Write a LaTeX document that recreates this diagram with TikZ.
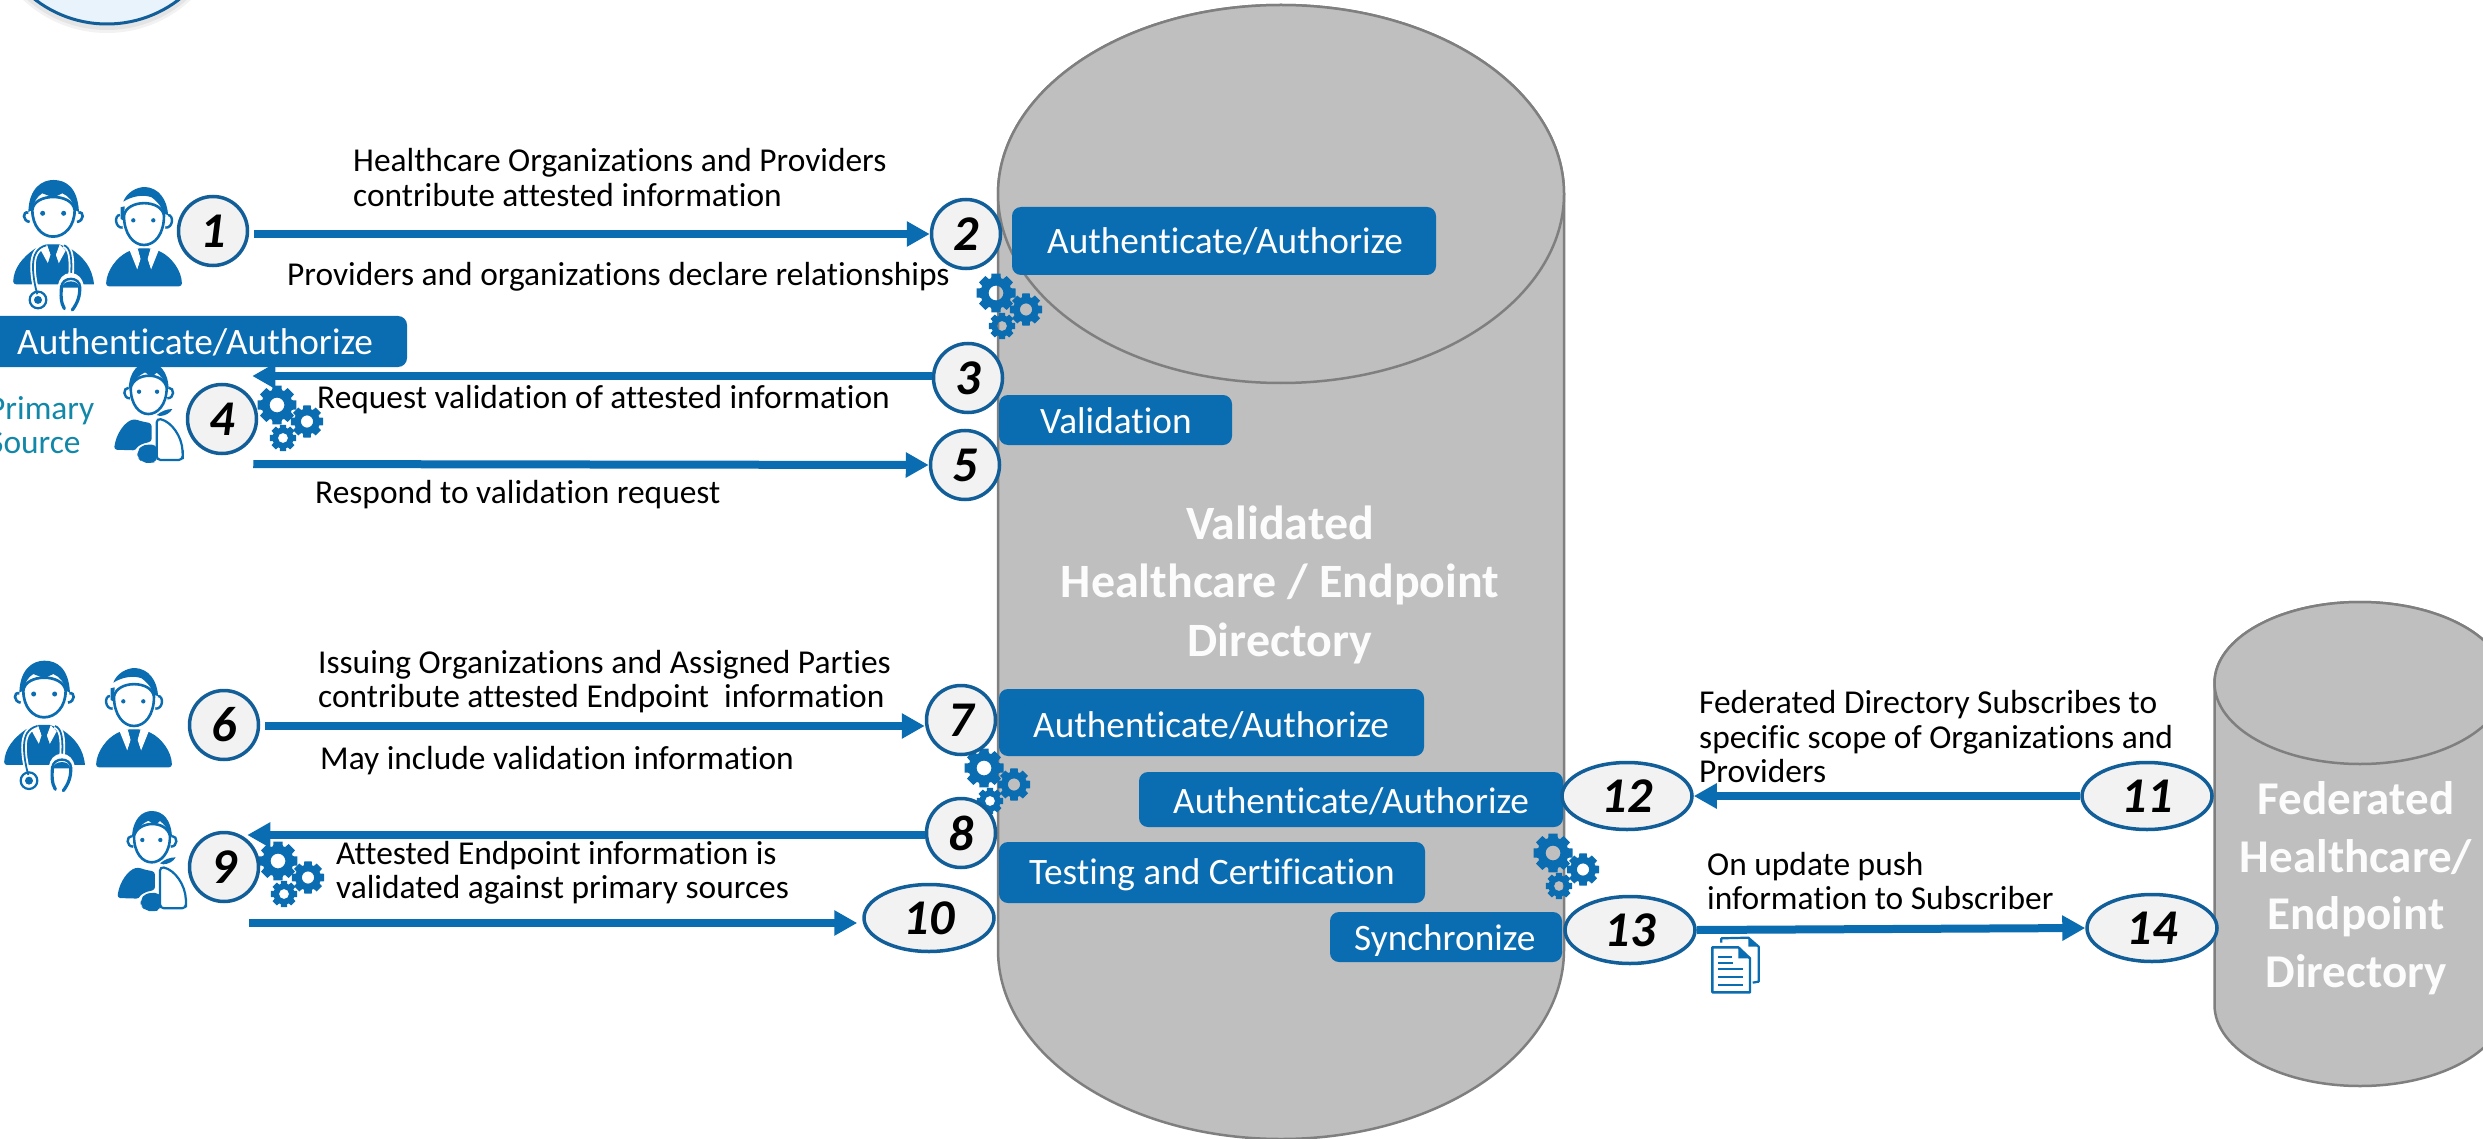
\documentclass[tikz,border=0pt]{standalone}
\usepackage{fontspec}
\setmainfont{Carlito}[Ligatures=NoCommon]
\usetikzlibrary{arrows.meta,shapes.geometric,calc}
\definecolor{bluemain}{HTML}{0A6CB1}
\definecolor{ringblue}{HTML}{115E99}
\definecolor{numfill}{HTML}{F2F2F2}
\definecolor{cylfill}{HTML}{BFBFBF}
\definecolor{cylline}{HTML}{7F7F7F}
\definecolor{teal}{HTML}{1287A8}
\definecolor{topfill}{HTML}{E8F3FB}
\tikzset{
  x=1pt,y=-1pt,
  numc/.style={circle,draw=ringblue,line width=3.5pt,fill=numfill,minimum size=69pt,inner sep=0pt,font=\fontsize{50}{54}\selectfont\bfseries\itshape},
  nume/.style={ellipse,draw=ringblue,line width=3.5pt,fill=numfill,minimum width=130pt,minimum height=67pt,inner sep=0pt,font=\fontsize{50}{54}\selectfont\bfseries\itshape},
  arr/.style={draw=bluemain,line width=8pt,-{Triangle[length=23pt,width=24pt]}},
  txt/.style={anchor=base west,yshift=-1.5pt,inner sep=0pt,align=left,text=black,font=\fontsize{33.4}{34.5}\selectfont},
  bantxt/.style={anchor=base west,yshift=-1.5pt,inner sep=0pt,text=white,font=\fontsize{37.3}{42}\selectfont},
  banbox/.style={fill=bluemain,rounded corners=9pt},
  cyl/.style={fill=cylfill,draw=cylline,line width=2.5pt},
}
% gear: centre, outer radius
\newcommand{\onegear}[3]{%
  \fill[bluemain,even odd rule,shift={(#1,#2)}]
    (-13:#3) \foreach \t in {0,45,...,315}{
      -- ({\t-13}:#3) -- ({\t+13}:#3) -- ({\t+18}:{#3*0.78}) -- ({\t+27}:{#3*0.78}) }
    -- cycle (0,0) circle ({#3*0.37});}
\newcommand{\gears}[2]{%
  \onegear{#1}{#2}{20}\onegear{#1+30}{#2+16.5}{16.5}\onegear{#1+6}{#2+33}{13.5}}
% icons: local coordinates are 3x pixels
\newcommand{\doctoricon}[2]{%
\begin{scope}[shift={(#1,#2)},x=0.3333pt,y=-0.3333pt]
  \fill[bluemain] (12,315) .. controls (15,265) and (40,235) .. (78,208) -- (115,195) -- (150,195) -- (185,208) .. controls (225,235) and (250,265) .. (255,315) [rounded corners=3pt] -- cycle;
  \fill[white] (96,214) -- (114,196) -- (126,228) -- (119,256) -- cycle;
  \fill[white] (170,214) -- (152,196) -- (140,228) -- (147,256) -- cycle;
  \draw[white,line width=5.5pt] (112,198) .. controls (85,205) and (72,225) .. (72,262) .. controls (72,290) and (78,320) .. (85,345);
  \draw[bluemain,line width=1.8pt] (112,198) .. controls (85,205) and (72,225) .. (72,262) .. controls (72,290) and (78,320) .. (85,345);
  \draw[white,line width=5.5pt] (165,198) .. controls (185,205) and (190,235) .. (186,292);
  \draw[bluemain,line width=1.8pt] (165,198) .. controls (185,205) and (190,235) .. (186,292);
  \draw[white,line width=6pt,fill=white] (158,380) .. controls (150,340) and (150,292) .. (185,290) .. controls (220,292) and (222,340) .. (212,365) -- (192,392);
  \fill[bluemain] (160,325) .. controls (160,300) and (212,300) .. (210,325) -- cycle;
  \draw[bluemain,line width=3.2pt,line cap=round] (158,320) .. controls (155,345) and (155,370) .. (166,388);
  \draw[bluemain,line width=3.2pt,line cap=round] (212,322) .. controls (214,350) and (205,372) .. (190,392);
  \draw[bluemain,line width=2.4pt] (157,325) .. controls (157,290) and (215,290) .. (213,325);
  \draw[bluemain,line width=2.2pt] (87,362) circle (25);
  \fill[bluemain] (87,362) circle (12);
  \fill[bluemain] (116,197) -- (149,197) -- (140,226) -- (150,254) -- (132,278) -- (116,254) -- (125,226) -- cycle;
  \draw[bluemain,line width=2.7pt,fill=white] (70,92) .. controls (70,140) and (98,172) .. (132,172) .. controls (168,172) and (197,140) .. (197,92) .. controls (190,40) and (75,40) .. (70,92) -- cycle;
  \draw[bluemain,line width=2.6pt,fill=white] (58,100) .. controls (40,95) and (40,125) .. (62,128);
  \draw[bluemain,line width=2.6pt,fill=white] (208,100) .. controls (226,95) and (226,125) .. (204,128);
  \fill[bluemain] (58,98) .. controls (60,25) and (100,2) .. (133,2) .. controls (172,2) and (206,25) .. (210,98) -- (197,92) .. controls (195,70) and (180,50) .. (160,42) -- (133,55) -- (100,42) .. controls (85,50) and (73,70) .. (70,92) -- cycle;
  \fill[bluemain] (101,102) circle (7.5) (164,102) circle (7.5);
\end{scope}}
\newcommand{\personicon}[2]{%
\begin{scope}[shift={(#1,#2)},x=0.3333pt,y=-0.3333pt]
  \fill[bluemain,rounded corners=3pt] (288,322) .. controls (290,275) and (320,235) .. (360,215) -- (385,208) -- (420,208) -- (445,215) .. controls (485,235) and (515,275) .. (516,322) -- cycle;
  \fill[white] (358,212) -- (384,208) -- (392,240) -- (382,272) -- cycle;
  \fill[white] (447,212) -- (421,208) -- (413,240) -- (423,272) -- cycle;
  \fill[bluemain] (384,210) -- (421,210) -- (411,240) -- (423,272) -- (403,296) -- (382,272) -- (393,240) -- cycle;
  \draw[bluemain,line width=2.6pt,fill=white] (342,110) .. controls (342,165) and (370,198) .. (402,198) .. controls (435,198) and (462,165) .. (462,110) .. controls (455,60) and (350,60) .. (342,110) -- cycle;
  \draw[bluemain,line width=2.4pt,fill=white] (330,108) .. controls (312,108) and (315,148) .. (338,146);
  \draw[bluemain,line width=2.4pt,fill=white] (474,108) .. controls (492,108) and (490,148) .. (466,146);
  \fill[bluemain] (340,68) .. controls (350,40) and (380,24) .. (405,24) .. controls (445,26) and (472,60) .. (474,108) -- (462,105) .. controls (458,88) and (445,70) .. (425,55) .. controls (400,45) and (365,52) .. (340,68) -- cycle;
  \fill[bluemain] (332,85) -- (344,82) -- (342,125) -- (332,120) -- cycle;
  \fill[bluemain] (370,124) circle (6.5) (430,124) circle (6.5);
\end{scope}}
\newcommand{\patienticon}[2]{%
\begin{scope}[shift={(#1,#2)},x=0.3333pt,y=-0.3333pt]
  \fill[bluemain,rounded corners=3pt] (22,264) .. controls (28,215) and (55,180) .. (85,172) -- (100,178) -- (135,185) -- (135,240) .. controls (105,245) and (92,255) .. (88,266) -- cycle;
  \draw[bluemain,line width=2.2pt,fill=white,rounded corners=4pt] (150,170) .. controls (195,180) and (226,225) .. (228,280) -- (228,295) -- (150,295) -- cycle;
  \fill[bluemain,rounded corners=5pt] (92,270) -- (105,250) -- (150,248) -- (153,298) -- (130,306) -- (105,300) -- (92,288) -- cycle;
  \fill[bluemain] (150,160) .. controls (165,148) and (180,142) .. (197,142) .. controls (190,155) and (175,162) .. (160,163) -- cycle;
  \draw[bluemain,line width=2.6pt,fill=white] (72,78) .. controls (72,130) and (98,157) .. (125,157) .. controls (152,157) and (180,130) .. (180,78) .. controls (170,30) and (85,30) .. (72,78) -- cycle;
  \draw[bluemain,line width=2.4pt,fill=white] (66,78) .. controls (48,78) and (48,110) .. (70,110);
  \draw[bluemain,line width=2.4pt,fill=white] (186,78) .. controls (204,78) and (204,110) .. (182,110);
  \fill[bluemain] (66,82) .. controls (68,25) and (98,3) .. (125,3) .. controls (160,3) and (184,30) .. (186,82) -- (178,72) .. controls (172,55) and (162,42) .. (150,33) -- (135,46) -- (115,32) .. controls (98,40) and (82,55) .. (75,70) -- cycle;
  \fill[bluemain] (97,90) circle (6.5) (151,90) circle (6.5);
\end{scope}}
\begin{document}
\begin{tikzpicture}
\useasboundingbox (0,0) rectangle (2483,1139);
% top-left partial circle
\fill[black,opacity=0.05] (107,-90) circle (123);
\fill[black,opacity=0.06] (107,-91) circle (121);
\node[circle,draw=ringblue,line width=3pt,fill=topfill,minimum size=236pt,inner sep=0pt] (topc) at (107,-94) {};
% cylinders
\path[cyl] (998,194) -- (998,950) arc[start angle=180,end angle=360,x radius=283,y radius=-189] -- (1564,194) arc[start angle=0,end angle=180,x radius=283,y radius=-189] -- cycle;
\path[cyl] (1281,194) ellipse[x radius=283,y radius=189];
\path[cyl] (2214.5,683) -- (2214.5,1005) arc[start angle=180,end angle=360,x radius=145.5,y radius=-81] -- (2505.5,683) arc[start angle=0,end angle=180,x radius=145.5,y radius=-81] -- cycle;
\path[cyl] (2360,683) ellipse[x radius=145.5,y radius=81];
\node[anchor=base,inner sep=0pt,align=center,text=white!95!cylfill,font=\fontsize{47.9}{58.2}\selectfont\bfseries] (maintitle) at (1280,656) {Validated\\Healthcare / Endpoint\\Directory};
\node[anchor=base,inner sep=0pt,align=center,text=white!95!cylfill,font=\fontsize{47}{57.5}\selectfont\bfseries] (fedtitle) at (2356,987) {Federated\\Healthcare/\\Endpoint\\Directory};
% gears behind number circles
\gears{996}{293}
\gears{984}{768}
\gears{1553}{853}
% icons
\doctoricon{9}{179.3}
\personicon{10}{179}
\patienticon{106.7}{361.7}
\doctoricon{0}{660}
\personicon{0}{660}
\patienticon{110}{810}
\gears{277}{405}
\gears{278}{861}
% banners
\path[banbox] (-20,316) rectangle (407,367);
\path[banbox] (1012,207) rectangle (1436,275);
\path[banbox] (999,395) rectangle (1232,445);
\path[banbox] (999,689) rectangle (1424,756);
\path[banbox] (1139,772) rectangle (1563,827);
\path[banbox] (999,842) rectangle (1425,903);
\path[banbox] (1330,912) rectangle (1562,962);
\node[bantxt] (bA) at (17,353) {Authenticate/Authorize};
\node[bantxt] (bB) at (1047,252) {Authenticate/Authorize};
\node[bantxt] (bV) at (1040,432) {Validation};
\node[bantxt] (bC) at (1033,736) {Authenticate/Authorize};
\node[bantxt] (bD) at (1173,812) {Authenticate/Authorize};
\node[bantxt] (bT) at (1029,883) {Testing and Certification};
\node[bantxt] (bS) at (1354,949) {Synchronize};
% number nodes
\node[numc] (n1) at (213,231) {1};
\node[numc] (n2) at (966,234) {2};
\node[numc] (n3) at (968,378) {3};
\node[numc] (n4) at (222,419) {4};
\node[numc] (n5) at (965,465) {5};
\node[numc] (n6) at (224,725) {6};
\node[numc] (n7) at (961,720) {7};
\node[numc] (n8) at (961,833) {8};
\node[numc] (n9) at (224,867) {9};
\node[nume] (n10) at (929,918) {10};
\node[nume] (n11) at (2147,796) {11};
\node[nume] (n12) at (1627,796) {12};
\node[nume] (n13) at (1630,930) {13};
\node[nume] (n14) at (2152,928) {14};
% connectors
\draw[arr] ($(n1.east)+(5,3)$) -- (n2.west);
\draw[arr] ($(n3.west)+(0,-2)$) -- ($(n4.east)+(-6,-43)$);
\draw[arr] ($(n4.east)+(-5,45)$) -- (n5.west);
\draw[arr] ($(n6.east)+(5,1)$) -- ($(n7.west)+(0,6)$);
\draw[arr] ($(n8.west)+(0,2)$) -- ($(n9.east)+(-13,-32)$);
\draw[arr] ($(n9.east)+(-11,56)$) -- ($(n10.west)+(-5,5)$);
\draw[arr] (n11.west) -- (n12.east);
\draw[arr] (n13.east) -- (n14.west);
% labels
\node[txt] (t1) at (353,205) {Healthcare Organizations and Providers\\contribute attested information};
\node[txt] (t2) at (287,284) {Providers and organizations declare relationships};
\node[txt] (t3) at (317,407) {Request validation of attested information};
\node[txt] (t4) at (315,502) {Respond to validation request};
\node[txt,text=teal] (t5) at (-12,452) {Primary\\Source};
\node[txt] (t6) at (318,706) {Issuing Organizations and Assigned Parties\\contribute attested Endpoint\ \ information};
\node[txt] (t7) at (320,768) {May include validation information};
\node[txt] (t8) at (336,897) {Attested Endpoint information is\\validated against primary sources};
\node[txt] (t9) at (1699,781) {Federated Directory Subscribes to\\specific scope of Organizations and\\Providers};
\node[txt] (t10) at (1707,908) {On update push\\information to Subscriber};
% document icon
\begin{scope}[shift={(1480,740)},x=0.3333pt,y=-0.3333pt]
  \draw[bluemain,line width=2.2pt,line join=round] (724,608) -- (724,595) -- (805,593) -- (836,620) -- (836,725) -- (818,728);
  \fill[bluemain] (805,593) -- (836,620) -- (805,620) -- cycle;
  \draw[bluemain,line width=2.4pt,line join=round,fill=white] (697,622) -- (775,622) -- (810,655) -- (810,757) -- (697,757) -- cycle;
  \fill[bluemain] (775,622) -- (810,655) -- (775,655) -- cycle;
  \foreach \yy/\xx in {650/755,668/760,688/790,710/790,735/790}
    \draw[bluemain,line width=2.2pt] (715,\yy) -- (\xx,\yy);
\end{scope}
\end{tikzpicture}
\end{document}
